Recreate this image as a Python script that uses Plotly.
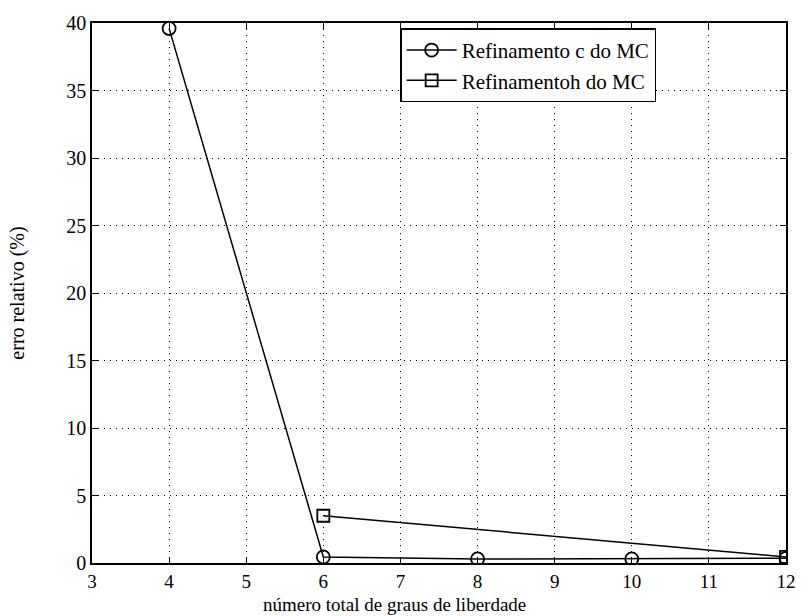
import plotly.graph_objects as go

x_c = [4, 6, 8, 10, 12]
y_c = [39.6, 0.45, 0.3, 0.3, 0.35]
x_h = [6, 12]
y_h = [3.5, 0.45]
name_c = "Refinamento c do MC"
name_h = "Refinamentoh do MC"
x_ticks = [3, 4, 5, 6, 7, 8, 9, 10, 11, 12]
y_ticks = [0, 5, 10, 15, 20, 25, 30, 35, 40]
x_title = "número total de graus de liberdade"
y_title = "erro relativo (%)"

font = "Liberation Serif, Times New Roman, serif"

fig = go.Figure()
fig.add_trace(go.Scatter(x=x_c, y=y_c, name=name_c, mode="lines+markers",
                         line=dict(color="black", width=1.5),
                         marker=dict(symbol="circle-open", size=13, color="black",
                                     line=dict(width=1.8, color="black"))))
fig.add_trace(go.Scatter(x=x_h, y=y_h, name=name_h, mode="lines+markers",
                         line=dict(color="black", width=1.5),
                         marker=dict(symbol="square-open", size=12, color="black",
                                     line=dict(width=1.8, color="black"))))

axis_common = dict(showline=True, linecolor="black", linewidth=1.5, mirror="ticks",
                   showgrid=True, gridcolor="black", griddash="1px,5px", gridwidth=1,
                   zeroline=False, tickcolor="black", ticklen=6)

fig.update_xaxes(range=[3, 12], tickvals=x_ticks, ticks="inside",
                 tickfont=dict(family=font, size=19, color="black"), **axis_common)
fig.update_yaxes(range=[0, 40], tickvals=y_ticks, ticks="inside",
                 tickfont=dict(family=font, size=20, color="black"),
                 title=dict(text=y_title, standoff=36,
                            font=dict(family=font, size=20, color="black")),
                 **axis_common)

fig.add_annotation(text=x_title, xref="paper", yref="paper", x=0.4365, y=-0.0775,
                   xanchor="center", yanchor="middle", showarrow=False,
                   font=dict(family=font, size=19, color="black"))

fig.update_layout(
    width=808, height=616,
    margin=dict(l=92, r=15, t=16, b=53),
    paper_bgcolor="white", plot_bgcolor="white",
    font=dict(family=font, size=20, color="black"),
    legend=dict(x=0.444, y=0.99, xanchor="left", yanchor="top",
                bgcolor="white", bordercolor="black", borderwidth=1.5,
                font=dict(family=font, size=21, color="black"),
                tracegroupgap=0, itemwidth=50),
    showlegend=True,
)

fig.write_html("out.html")
